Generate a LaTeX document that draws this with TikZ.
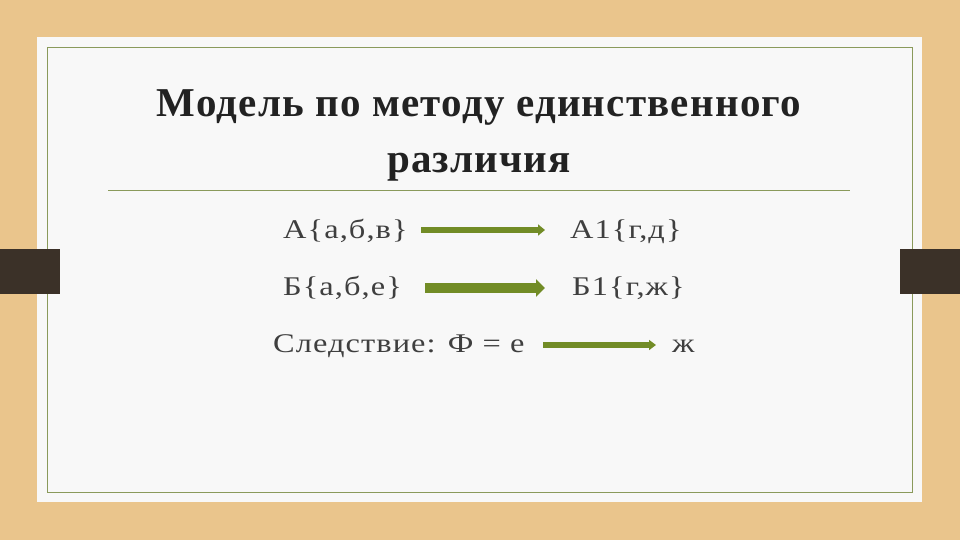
\documentclass[tikz,border=0pt]{standalone}
\usepackage{fontspec}
\setmainfont{Liberation Serif}
\newfontfamily\titlefont[LetterSpace=3]{Liberation Serif}
\newfontfamily\bodyfont[FakeStretch=1.2,LetterSpace=4]{Liberation Serif}
\usetikzlibrary{arrows.meta}
\definecolor{wood}{HTML}{EAC58C}
\definecolor{panel}{HTML}{F8F8F8}
\definecolor{frame}{HTML}{8A9A5B}
\definecolor{tab}{HTML}{3B3128}
\definecolor{arrowgreen}{HTML}{728C26}
\definecolor{titletext}{HTML}{222222}
\definecolor{bodytext}{HTML}{3F3F3F}
\tikzset{
  titlestyle/.style={text=titletext, font=\titlefont\fontsize{41}{44}\selectfont\bfseries, inner sep=0pt, anchor=base},
  bodystyle/.style={text=bodytext, font=\bodyfont\fontsize{27}{30}\selectfont, inner sep=0pt, anchor=base west},
  greenarrow/.style={draw=arrowgreen, line width=#1},
}
\begin{document}
\begin{tikzpicture}[x=1pt,y=-1pt]
\useasboundingbox (0,0) rectangle (960,540);
\fill[wood] (0,0) rectangle (960,540);
\fill[panel] (37,37) rectangle (922,502);
\draw[frame, line width=1pt] (47,48) rectangle (912,492);
\fill[tab] (0,249) rectangle (60,294);
\fill[tab] (900,249) rectangle (960,294);
\node[titlestyle] (t1) at (479,117) {Модель по методу единственного};
\node[titlestyle] (t2) at (479,172) {различия};
\draw[frame, line width=1pt] (108,190) -- (850,190);
\node[bodystyle] (a) at (283,238) {А\{а,б,в\}};
\node[bodystyle] (a1) at (570,238) {А1\{г,д\}};
\node[bodystyle] (b) at (283,295) {Б\{а,б,е\}};
\node[bodystyle] (b1) at (572,295) {Б1\{г,ж\}};
\node[bodystyle] (c) at (273,352) {Следствие: Ф = е};
\node[bodystyle] (c1) at (672,352) {ж};
\coordinate (as) at (421,230);
\coordinate (ae) at (545,230);
\coordinate (bs) at (425,288);
\coordinate (be) at (545,288);
\coordinate (cs) at (543,345);
\coordinate (ce) at (656,345);
\draw[greenarrow=6pt, -{Triangle[length=7pt,width=11pt]}] (as) -- (ae);
\draw[greenarrow=10pt, -{Triangle[length=9pt,width=17pt]}] (bs) -- (be);
\draw[greenarrow=5.5pt, -{Triangle[length=7pt,width=10pt]}] (cs) -- (ce);
\end{tikzpicture}
\end{document}
